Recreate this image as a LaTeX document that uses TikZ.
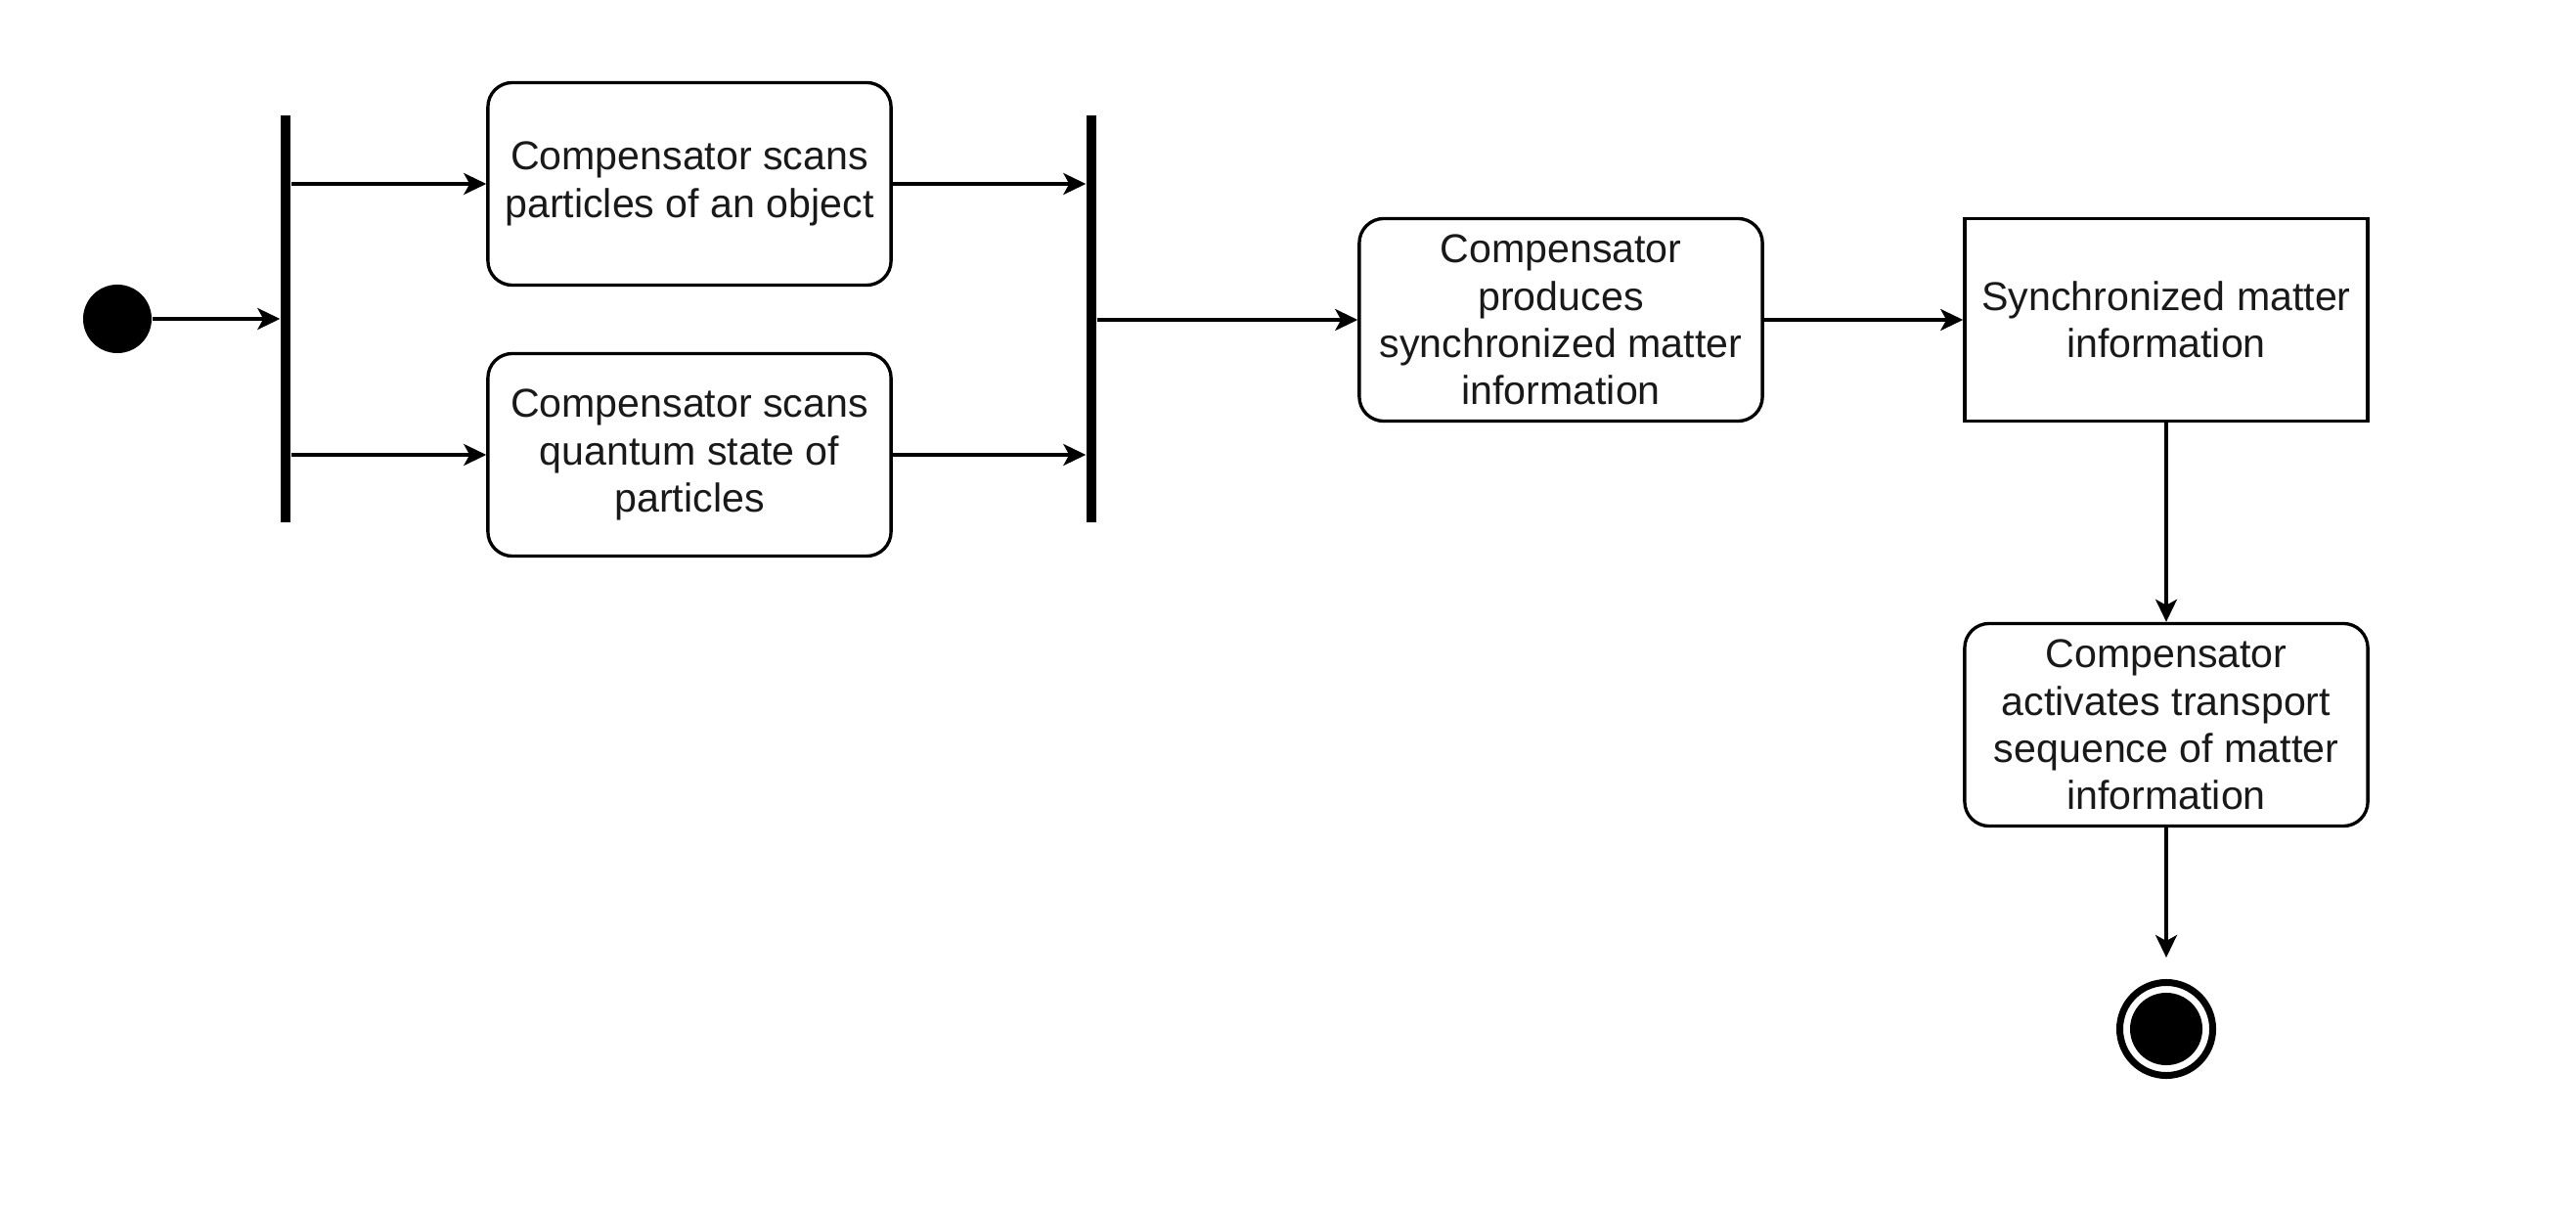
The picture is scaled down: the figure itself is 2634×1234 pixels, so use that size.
\documentclass[tikz,border=0pt]{standalone}
\usepackage{fontspec}
\setmainfont{Liberation Sans}
\usetikzlibrary{arrows.meta,calc}
\begin{document}
\begin{tikzpicture}[x=0.01cm,y=-0.01cm,
  every node/.style={font=\fontsize{11.7}{13.7}\selectfont, text=black!90},
  act/.style={draw, line width=0.95pt, rounded corners=0.25cm, minimum width=4.12cm, minimum height=2.07cm, align=center, inner sep=2pt},
  obj/.style={draw, line width=0.95pt, minimum width=4.12cm, minimum height=2.07cm, align=center, inner sep=2pt},
  bar/.style={fill=black, draw=none, minimum width=0.1cm, minimum height=4.16cm, inner sep=0pt},
  flow/.style={line width=0.95pt, -{Stealth[length=0.23cm,width=0.22cm,inset=0.06cm]}}
]
\useasboundingbox (0,0) rectangle (2634,1234);
\node[circle, fill=black, minimum size=0.7cm, inner sep=0pt] (init) at (120,326) {};
\node[bar] (bar1) at (292,326) {};
\node[act] (A) at (705,188) {Compensator scans\\particles of an object};
\node[act] (B) at (705,465) {Compensator scans\\quantum state of\\particles};
\node[bar] (bar2) at (1116,326) {};
\node[act] (C) at (1596,327) {Compensator\\produces\\synchronized matter\\information};
\node[obj] (D) at (2215,327) {Synchronized matter\\information};
\node[act] (E) at (2215,741) {Compensator\\activates transport\\sequence of matter\\information};
\node[circle, draw=black, line width=0.07cm, minimum size=0.95cm, inner sep=0pt] (final) at (2215,1052) {};
\node[circle, fill=black, minimum size=0.74cm, inner sep=0pt] (finalin) at (final.center) {};

\draw[flow] (init.east) -- (init.east -| bar1.west);
\draw[flow] (bar1.east |- A.west) -- (A.west);
\draw[flow] (bar1.east |- B.west) -- (B.west);
\draw[flow] (A.east) -- (A.east -| bar2.west);
\draw[flow] (B.east) -- (B.east -| bar2.west);
\draw[flow] (C.west -| bar2.east) -- (C.west);
\draw[flow] (C.east) -- (D.west);
\draw[flow] (D.south) -- (E.north);
\draw[flow, shorten >=0.22cm] (E.south) -- (final.north);
\end{tikzpicture}
\end{document}
